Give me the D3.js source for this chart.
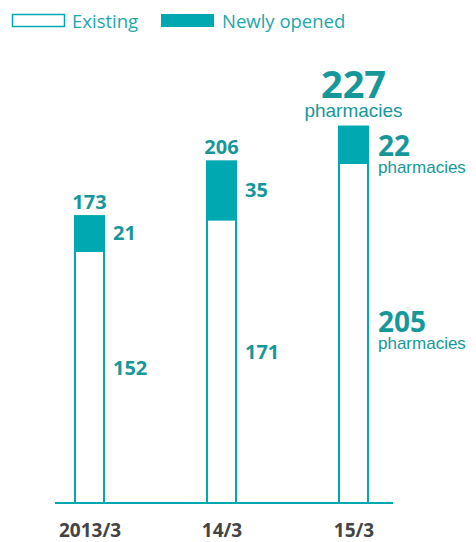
<!DOCTYPE html>
<html><head><meta charset="utf-8">
<script src="https://cdn.jsdelivr.net/npm/d3@7"></script>
<style>body{margin:0;background:#fff}svg{display:block}</style>
</head><body>
<svg id="c" width="476" height="542"></svg>
<script>
const categories = ["2013/3", "14/3", "15/3"];
const existing = [152, 171, 205];
const newlyOpened = [21, 35, 22];
const totals = [173, 206, 227];
const legendLabels = ["Existing", "Newly opened"];

const teal = "#00A9B1", textTeal = "#16989A", legendTeal = "#21A7AA", axisGray = "#444";
const svg = d3.select("#c");
const x = d3.scalePoint().domain(categories).range([89.5, 353.5]);
const y = d3.scaleLinear().domain([0, 227]).range([503, 126.5]);
const bw = 29;

// legend
svg.append("rect").attr("x", 12.5).attr("y", 14.5).attr("width", 52).attr("height", 12)
  .attr("fill", "#fff").attr("stroke", teal).attr("stroke-width", 1.5);
svg.append("text").attr("x", 72).attr("y", 27.5).text(legendLabels[0])
  .attr("font-family", "Open Sans").attr("font-size", 18.5).attr("fill", legendTeal);
svg.append("rect").attr("x", 161).attr("y", 14).attr("width", 53).attr("height", 13).attr("fill", teal);
svg.append("text").attr("x", 222).attr("y", 27.5).text(legendLabels[1])
  .attr("font-family", "Open Sans").attr("font-size", 18.5).attr("fill", legendTeal);

// bars
categories.forEach((c, i) => {
  const cx = x(c);
  svg.append("rect").attr("x", cx - bw/2).attr("y", y(existing[i]))
    .attr("width", bw).attr("height", y(0) - y(existing[i]))
    .attr("fill", "#fff").attr("stroke", teal).attr("stroke-width", 2);
  svg.append("rect").attr("x", cx - bw/2).attr("y", y(totals[i]))
    .attr("width", bw).attr("height", y(existing[i]) - y(totals[i]))
    .attr("fill", teal).attr("stroke", teal).attr("stroke-width", 2);
});

// baseline
svg.append("line").attr("x1", 55).attr("x2", 393).attr("y1", y(0)).attr("y2", y(0))
  .attr("stroke", teal).attr("stroke-width", 2);

// axis labels
const xAxis = d3.axisBottom(x).tickSize(0).tickPadding(0);
const ax = svg.append("g").attr("transform", `translate(0,${y(0)})`).call(xAxis);
ax.select(".domain").remove();
ax.selectAll("text").attr("dy", null).attr("y", 34)
  .attr("font-family", "Open Sans").attr("font-weight", "bold").attr("font-size", 19).attr("fill", axisGray);

const num = (sel) => sel.attr("font-family", "Open Sans").attr("font-weight", "bold").attr("fill", textTeal);

// first two categories: small labels
[0, 1].forEach(i => {
  const cx = x(categories[i]);
  num(svg.append("text")).attr("x", cx).attr("y", y(totals[i]) - 7).attr("text-anchor", "middle")
    .attr("font-size", 20).text(totals[i]);
  num(svg.append("text")).attr("x", cx + bw/2 + 9).attr("y", (y(totals[i]) + y(existing[i]))/2 + 7)
    .attr("font-size", 20).text(newlyOpened[i]);
  num(svg.append("text")).attr("x", cx + bw/2 + 9).attr("y", (y(existing[i]) + y(0))/2 - 2)
    .attr("font-size", 20).text(existing[i]);
});

// last category: large labels with unit
const i = 2, cx = x(categories[i]);
num(svg.append("text")).attr("x", cx).attr("y", y(totals[i]) - 28.5).attr("text-anchor", "middle")
  .attr("font-size", 38).text(totals[i]);
svg.append("text").attr("x", cx).attr("y", y(totals[i]) - 9.5).attr("text-anchor", "middle")
  .attr("font-family", "Liberation Sans").attr("font-size", 19).attr("fill", textTeal).text("pharmacies");
const lx = cx + bw/2 + 10;
num(svg.append("text")).attr("x", lx).attr("y", 156).attr("font-size", 28).text(newlyOpened[i]);
svg.append("text").attr("x", lx).attr("y", 173)
  .attr("font-family", "Liberation Sans").attr("font-size", 17).attr("fill", textTeal).text("pharmacies");
num(svg.append("text")).attr("x", lx).attr("y", 332).attr("font-size", 28).text(existing[i]);
svg.append("text").attr("x", lx).attr("y", 349)
  .attr("font-family", "Liberation Sans").attr("font-size", 17).attr("fill", textTeal).text("pharmacies");
</script>
</body></html>
